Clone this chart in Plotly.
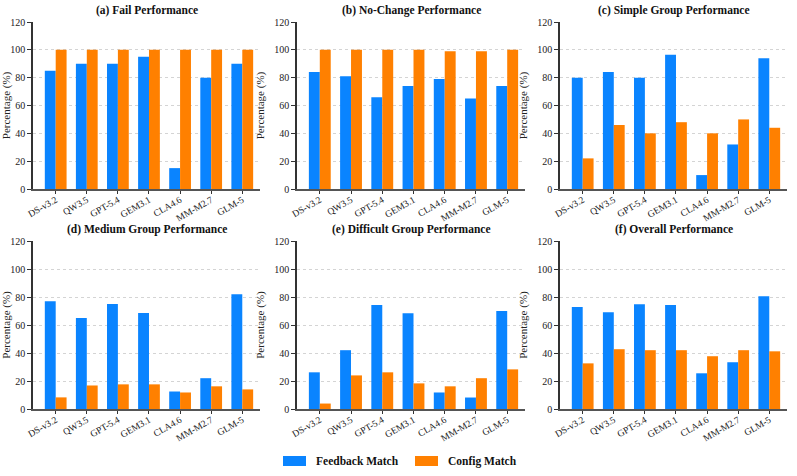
import plotly.graph_objects as go

models = ["DS-v3.2", "QW3.5", "GPT-5.4", "GEM3.1", "CLA4.6", "MM-M2.7", "GLM-5"]

panel_titles = [
    "(a) Fail Performance",
    "(b) No-Change Performance",
    "(c) Simple Group Performance",
    "(d) Medium Group Performance",
    "(e) Difficult Group Performance",
    "(f) Overall Performance",
]

fail_feedback = [85, 90, 90, 95, 15, 80, 90]
fail_config = [100, 100, 100, 100, 100, 100, 100]

nochange_feedback = [84, 81, 66, 74, 79, 65, 74]
nochange_config = [100, 100, 100, 100, 99, 99, 100]

simple_feedback = [80, 84, 80, 96.5, 10, 32, 94]
simple_config = [22, 46, 40, 48, 40, 50, 44]

medium_feedback = [77, 65, 75, 68.5, 12.5, 22, 82]
medium_config = [8.3, 16.8, 17.6, 17.6, 11.8, 16.2, 14]

difficult_feedback = [26.2, 42, 74.2, 68.4, 11.8, 8.2, 70]
difficult_config = [3.9, 24, 26.2, 18.3, 16.2, 22, 28.3]

overall_feedback = [72.8, 69.1, 74.9, 74.2, 25.5, 33.4, 80.6]
overall_config = [32.6, 42.7, 42, 42, 37.7, 42, 41.2]

feedback_series = [fail_feedback, nochange_feedback, simple_feedback,
                   medium_feedback, difficult_feedback, overall_feedback]
config_series = [fail_config, nochange_config, simple_config,
                 medium_config, difficult_config, overall_config]

y_ticks = [0, 20, 40, 60, 80, 100, 120]
legend_names = ["Feedback Match", "Config Match"]

BLUE = "#0a84ff"
ORANGE = "#ff8000"
FONT = "Liberation Serif, Times New Roman, DejaVu Serif, serif"
W, H = 797, 476

# panel pixel boxes
col_px = [(33, 260), (297, 525), (560, 787)]
row_px = [(22, 189), (241, 409)]

fig = go.Figure()

for i in range(6):
    r, c = divmod(i, 3)
    idx = "" if i == 0 else str(i + 1)
    xa = "x" + idx
    ya = "y" + idx
    fig.add_trace(go.Bar(x=models, y=feedback_series[i], name=legend_names[0],
                         marker=dict(color=BLUE, line=dict(width=0)),
                         xaxis=xa, yaxis=ya, showlegend=False, offsetgroup="a"))
    fig.add_trace(go.Bar(x=models, y=config_series[i], name=legend_names[1],
                         marker=dict(color=ORANGE, line=dict(width=0)),
                         xaxis=xa, yaxis=ya, showlegend=False, offsetgroup="b"))
    x0, x1 = col_px[c]
    y0, y1 = row_px[r]
    xdom = [x0 / W, x1 / W]
    ydom = [1 - y1 / H, 1 - y0 / H]
    fig.layout["xaxis" + idx] = dict(
        domain=xdom, anchor=ya, type="category", range=[-0.73, 6.57],
        showline=True, linecolor="#555555", linewidth=1.6,
        ticks="outside", ticklen=3, tickcolor="#333333", tickwidth=1,
        tickangle=-30, showgrid=False, automargin=False,
        ticklabelstandoff=-3,
        tickfont=dict(family=FONT, size=9.5, color="#222222"),
    )
    fig.layout["yaxis" + idx] = dict(
        domain=ydom, anchor=xa, range=[0, 120], tickvals=y_ticks,
        showline=True, linecolor="#333333", linewidth=1.6,
        ticks="outside", ticklen=4, tickcolor="#333333", tickwidth=1,
        showgrid=True, gridcolor="#d4d4d4", griddash="dot", gridwidth=1,
        zeroline=False, automargin=False,
        tickfont=dict(family=FONT, size=10, color="#222222"),
        title=dict(text="Percentage (%)", font=dict(family=FONT, size=11, color="#222222"), standoff=7),
    )
    fig.add_annotation(
        text="<b>" + panel_titles[i] + "</b>", xref="paper", yref="paper",
        x=(x0 + x1) / 2 / W, y=1 - (y0 - 12) / H, showarrow=False,
        xanchor="center", yanchor="middle",
        font=dict(family=FONT, size=11.5, color="#111111"),
    )

# legend drawn as key boxes + labels
legend_items = [(283, BLUE, legend_names[0]), (415, ORANGE, legend_names[1])]
for lx, col, name in legend_items:
    fig.add_shape(type="rect", xref="paper", yref="paper",
                  x0=lx / W, x1=(lx + 23) / W, y0=1 - 466 / H, y1=1 - 456 / H,
                  fillcolor=col, line=dict(width=0))
    fig.add_annotation(text="<b>" + name + "</b>", xref="paper", yref="paper",
                       x=(lx + 31) / W, y=1 - 461 / H, showarrow=False,
                       xanchor="left", yanchor="middle",
                       font=dict(family=FONT, size=11.5, color="#111111"))

fig.update_layout(
    width=W, height=H, barmode="group", bargap=0.3, bargroupgap=0,
    margin=dict(l=0, r=0, t=0, b=0),
    paper_bgcolor="white", plot_bgcolor="white",
    font=dict(family=FONT),
    showlegend=False,
)

fig.write_html("out.html")
